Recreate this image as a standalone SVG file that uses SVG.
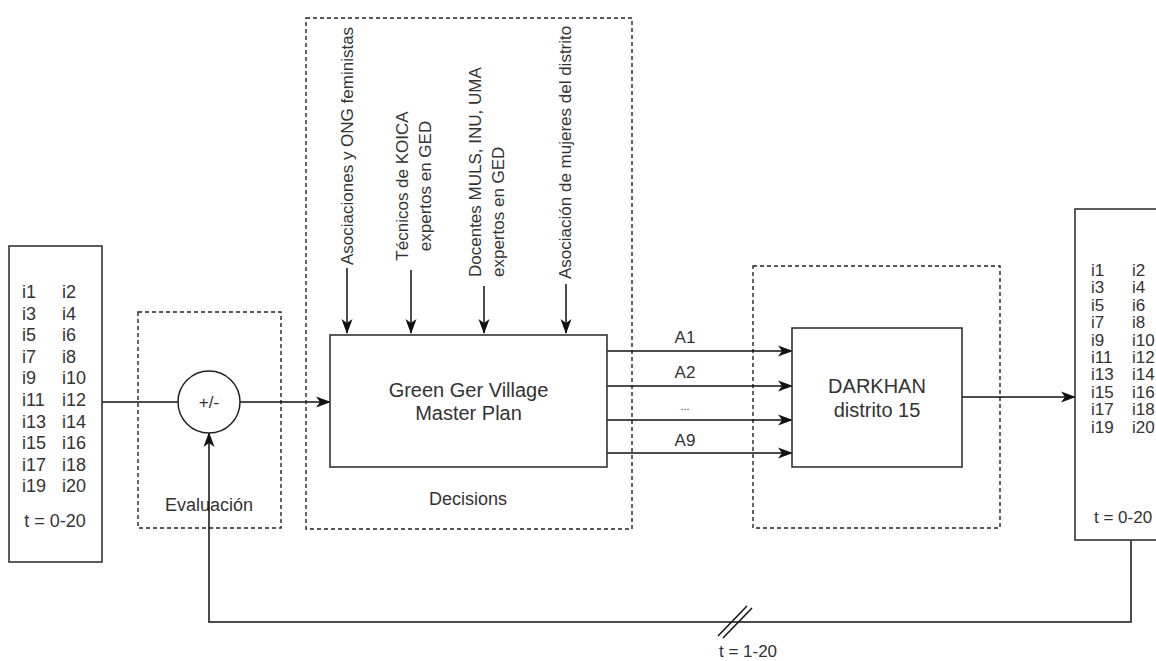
<svg xmlns="http://www.w3.org/2000/svg" width="1156" height="661" viewBox="0 0 1156 661">
  <style>
    text { font-family: "Liberation Sans", Arial, Helvetica, sans-serif; fill: #333; }
    .t17 { font-size: 17px; }
    .t18 { font-size: 18px; }
    .t20 { font-size: 20px; }
    .mid { text-anchor: middle; }
    .box { fill: #fff; stroke: #333; stroke-width: 1.6; }
    .dash { fill: none; stroke: #222; stroke-width: 1.4; stroke-dasharray: 4 3; }
    .edge { fill: none; stroke: #111; stroke-width: 1.5; }
  </style>
  <defs>
    <marker id="arrow" viewBox="0 0 15 12" refX="14" refY="6" markerWidth="15" markerHeight="12" markerUnits="userSpaceOnUse" orient="auto">
      <path d="M0,0.5 L15,6 L0,11.5 L4,6 Z" fill="#111"/>
    </marker>
  </defs>
  <rect width="1156" height="661" fill="#fff"/>

  <!-- dashed frames -->
  <g id="frame-evaluacion">
    <rect class="dash" x="138" y="312" width="143" height="216"/>
    <text class="t18 mid" x="209" y="511">Evaluación</text>
  </g>
  <g id="frame-decisions">
    <rect class="dash" x="306" y="18" width="326" height="511"/>
    <text class="t18 mid" x="468" y="505">Decisions</text>
  </g>
  <g id="frame-darkhan">
    <rect class="dash" x="753" y="266" width="247" height="262"/>
  </g>

  <!-- connectors -->
  <g id="connectors">
    <path class="edge" d="M102,402 H178"/>
    <path class="edge" d="M240,402 H330" marker-end="url(#arrow)"/>
    <path class="edge" d="M347,268 V333" marker-end="url(#arrow)"/>
    <path class="edge" d="M411,270 V333" marker-end="url(#arrow)"/>
    <path class="edge" d="M484,286 V333" marker-end="url(#arrow)"/>
    <path class="edge" d="M566,284 V333" marker-end="url(#arrow)"/>
    <path class="edge" d="M607,351 H792" marker-end="url(#arrow)"/>
    <path class="edge" d="M607,386 H792" marker-end="url(#arrow)"/>
    <path class="edge" d="M607,420 H792" marker-end="url(#arrow)"/>
    <path class="edge" d="M607,453 H792" marker-end="url(#arrow)"/>
    <path class="edge" d="M962,397 H1075" marker-end="url(#arrow)"/>
    <path class="edge" d="M1131,540 V622 H209 V433" marker-end="url(#arrow)"/>
    <path class="edge" d="M718,636 L747,606 M723,638 L752,608" stroke-width="1.2"/>
    <text class="t17 mid" x="685" y="343">A1</text>
    <text class="t17 mid" x="685" y="378">A2</text>
    <text class="mid" x="685" y="410" font-size="11">...</text>
    <text class="t17 mid" x="685" y="446">A9</text>
    <text class="t17 mid" x="748" y="657">t = 1-20</text>
  </g>

  <!-- input indicators -->
  <g id="indicators-in">
    <rect class="box" x="9" y="246" width="93" height="316"/>
    <g class="t18">
      <text x="22" y="298">i1</text><text x="62" y="298">i2</text>
      <text x="22" y="319.6">i3</text><text x="62" y="319.6">i4</text>
      <text x="22" y="341.2">i5</text><text x="62" y="341.2">i6</text>
      <text x="22" y="362.8">i7</text><text x="62" y="362.8">i8</text>
      <text x="22" y="384.4">i9</text><text x="62" y="384.4">i10</text>
      <text x="22" y="406">i11</text><text x="62" y="406">i12</text>
      <text x="22" y="427.6">i13</text><text x="62" y="427.6">i14</text>
      <text x="22" y="449.2">i15</text><text x="62" y="449.2">i16</text>
      <text x="22" y="470.8">i17</text><text x="62" y="470.8">i18</text>
      <text x="22" y="492.4">i19</text><text x="62" y="492.4">i20</text>
      <text class="mid" x="55" y="527">t = 0-20</text>
    </g>
  </g>

  <!-- comparator -->
  <g id="comparator">
    <circle cx="209" cy="402" r="31" fill="#fff" stroke="#222" stroke-width="1.5"/>
    <text class="t17 mid" x="209" y="408">+/-</text>
  </g>

  <!-- stakeholder inputs -->
  <g id="input-asociaciones">
    <text class="t17" transform="translate(353,265) rotate(-90)">Asociaciones y ONG feministas</text>
  </g>
  <g id="input-koica">
    <text class="t17 mid" transform="translate(408,186) rotate(-90)">Técnicos de KOICA</text>
    <text class="t17 mid" transform="translate(431,186) rotate(-90)">expertos en GED</text>
  </g>
  <g id="input-docentes">
    <text class="t17" transform="translate(481,277) rotate(-90)">Docentes MULS, INU, UMA</text>
    <text class="t17" transform="translate(504,277) rotate(-90)">expertos en GED</text>
  </g>
  <g id="input-mujeres">
    <text class="t17" transform="translate(571,279) rotate(-90)">Asociación de mujeres del distrito</text>
  </g>

  <!-- master plan -->
  <g id="master-plan">
    <rect class="box" x="330" y="335" width="277" height="132"/>
    <text class="t20 mid" x="468.5" y="397">Green Ger Village</text>
    <text class="t20 mid" x="468.5" y="420">Master Plan</text>
  </g>

  <!-- district -->
  <g id="darkhan">
    <rect class="box" x="792" y="328" width="170" height="139"/>
    <text class="t20 mid" x="877" y="393">DARKHAN</text>
    <text class="t20 mid" x="877" y="417">distrito 15</text>
  </g>

  <!-- output indicators -->
  <g id="indicators-out">
    <rect class="box" x="1075" y="209" width="100" height="331"/>
    <g class="t17">
      <text x="1091" y="276">i1</text><text x="1132" y="276">i2</text>
      <text x="1091" y="293.4">i3</text><text x="1132" y="293.4">i4</text>
      <text x="1091" y="310.8">i5</text><text x="1132" y="310.8">i6</text>
      <text x="1091" y="328.2">i7</text><text x="1132" y="328.2">i8</text>
      <text x="1091" y="345.6">i9</text><text x="1132" y="345.6">i10</text>
      <text x="1091" y="363">i11</text><text x="1132" y="363">i12</text>
      <text x="1091" y="380.4">i13</text><text x="1132" y="380.4">i14</text>
      <text x="1091" y="397.8">i15</text><text x="1132" y="397.8">i16</text>
      <text x="1091" y="415.2">i17</text><text x="1132" y="415.2">i18</text>
      <text x="1091" y="432.6">i19</text><text x="1132" y="432.6">i20</text>
      <text x="1094" y="523">t = 0-20</text>
    </g>
  </g>
</svg>
